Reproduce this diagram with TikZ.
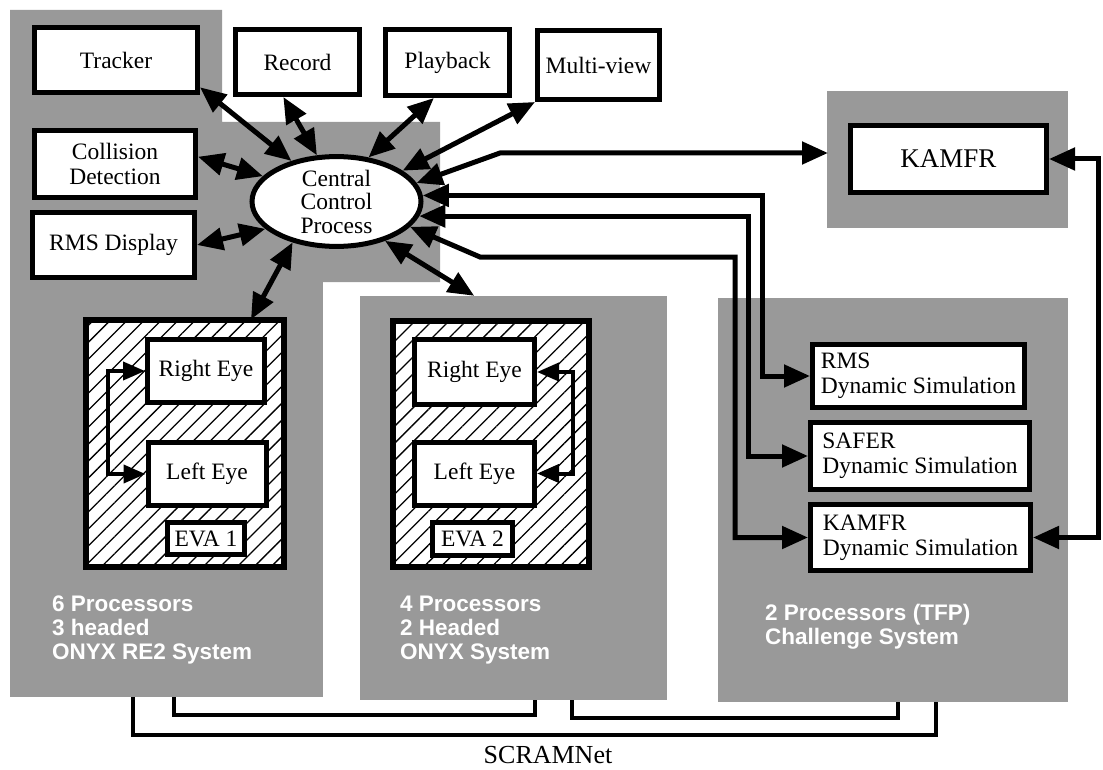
\documentclass[tikz,border=0pt]{standalone}
\usepackage{fontspec}
\setmainfont{Liberation Serif}
\newfontfamily\sysfont{Liberation Sans}
\usetikzlibrary{arrows.meta,patterns.meta,shapes.geometric}

\begin{document}
\begin{tikzpicture}[x=1pt,y=-1pt,
  box/.style={draw,line width=5pt,fill=white,inner sep=0pt,align=center,font=\fontsize{23.5}{25}\selectfont},
  dynbox/.style={box,align=left},
  evabox/.style={draw,line width=6pt,inner sep=0pt,preaction={fill=white},pattern={Lines[angle=45,distance=12pt,line width=1.3pt]}},
  sysbg/.style={fill=black!40,inner sep=0pt},
  syslabel/.style={anchor=north west,inner sep=0pt,align=left,text=white,font=\sysfont\bfseries\fontsize{22.5}{24}\selectfont},
  link/.style={line width=5pt,{Triangle[length=26pt,width=22pt]}-{Triangle[length=26pt,width=22pt]}},
  eyelink/.style={line width=4pt,{Triangle[length=22pt,width=18pt]}-{Triangle[length=22pt,width=18pt]}},
  bus/.style={line width=4pt}]
\useasboundingbox (0,0) rectangle (1103,770);
\fill[black!40] (10,10) -- (222,10) -- (222,122) -- (440,122) -- (440,282) -- (10,282) -- cycle;
\fill[black!40] (827,91) rectangle (1068,228);
\node[sysbg,minimum width=313pt,minimum height=415pt] (sys1) at (166.5,489.5) {};
\node[sysbg,minimum width=307pt,minimum height=404pt] (sys2) at (513.5,498) {};
\node[sysbg,minimum width=350pt,minimum height=404pt] (sys3) at (893,500) {};
\draw[bus] ([xshift=123pt]sys1.south west) -- ++(0,38) -| ([xshift=218pt]sys3.south west);
\draw[bus] ([xshift=164pt]sys1.south west) -- ++(0,18) -| ([xshift=175pt]sys2.south west);
\draw[bus] ([xshift=212pt]sys2.south west) -- ++(0,18) -| ([xshift=180pt]sys3.south west);
\node[inner sep=0pt,font=\fontsize{26}{28}\selectfont] (scram) at (548,755) {SCRAMNet};
\node[syslabel] (onyx1) at (52,596) {6 Processors\\3 headed\\ONYX RE2 System};
\node[syslabel] (onyx2) at (400,596) {4 Processors\\2 Headed\\ONYX System};
\node[syslabel] (chal) at (765,604) {2 Processors (TFP)\\Challenge System};

\node[box,minimum width=163pt,minimum height=65pt] (trk) at (116,60) {Tracker};
\node[box,minimum width=124pt,minimum height=65pt] (rec) at (297.5,62) {Record};
\node[box,minimum width=124pt,minimum height=66pt] (pb) at (447.5,62.5) {Playback};
\node[box,minimum width=122pt,minimum height=69pt] (mv) at (598.5,65) {Multi-view};
\node[box,minimum width=161pt,minimum height=67pt] (col) at (115,164) {Collision\\Detection};
\node[box,minimum width=162pt,minimum height=65pt] (rmsdisp) at (113.5,245) {RMS Display};
\node[box,ellipse,minimum width=169pt,minimum height=88pt,font=\fontsize{23.5}{23.5}\selectfont] (ccp) at (336.5,201.5) {Central\\Control\\Process};
\node[box,minimum width=196pt,minimum height=67pt,font=\fontsize{27}{30}\selectfont] (kamfr) at (948.5,159) {KAMFR};

\node[evabox,minimum width=198pt,minimum height=247pt] (eva1) at (185,443.5) {};
\node[box,minimum width=117pt,minimum height=63pt] (re1) at (206,371) {Right Eye};
\node[box,minimum width=118pt,minimum height=63pt] (le1) at (207,474) {Left Eye};
\node[box,minimum width=77pt,minimum height=32pt] (tag1) at (206,538.5) {EVA 1};
\node[evabox,minimum width=196pt,minimum height=246pt] (eva2) at (491,444) {};
\node[box,minimum width=120pt,minimum height=65pt] (re2) at (474.5,372) {Right Eye};
\node[box,minimum width=120pt,minimum height=63pt] (le2) at (474.5,473.5) {Left Eye};
\node[box,minimum width=80pt,minimum height=33pt] (tag2) at (472.5,539) {EVA 2};

\node[dynbox,minimum width=212pt,minimum height=63pt] (rmsdyn) at (918.5,376) {RMS\\Dynamic Simulation};
\node[dynbox,minimum width=219pt,minimum height=67pt] (saferdyn) at (920,456) {SAFER\\Dynamic Simulation};
\node[dynbox,minimum width=220pt,minimum height=66pt] (kamfrdyn) at (920.5,537.5) {KAMFR\\Dynamic Simulation};

\draw[link] (trk.-18) -- (ccp.138);
\draw[link] (rec.-112) -- (ccp.113);
\draw[link] (pb.-111) -- (ccp.54);
\draw[link] (mv.south west) -- (ccp.25);
\draw[link] (col.5) -- (ccp.161);
\draw[link] (rmsdisp.east) -- (ccp.201);
\draw[link] (ccp.223) -- (eva1.62);
\draw[link] (ccp.321) -- (sys2.101);
\coordinate (kbend) at (500,153);
\coordinate (kin) at (828,153);
\draw[link] (ccp.13) -- (kbend) -- (kin);
\draw[link] (ccp.4.7) -| ([xshift=-48pt]rmsdyn.west) -- (rmsdyn.west);
\draw[link] (ccp.-10.3) -| ([xshift=-60pt]saferdyn.west) -- (saferdyn.west);
\coordinate (dbend) at (480,257);
\draw[link] (ccp.-19) -- (dbend) -| ([xshift=-73pt]kamfrdyn.west) -- (kamfrdyn.west);
\draw[link] (kamfr.east) -| ([xshift=65pt]kamfrdyn.east) -- (kamfrdyn.east);
\draw[eyelink] (re1.west) -| ([xshift=-38pt]le1.west) -- (le1.west);
\draw[eyelink] (re2.east) -| ([xshift=36pt]le2.east) -- (le2.east);
\end{tikzpicture}
\end{document}
